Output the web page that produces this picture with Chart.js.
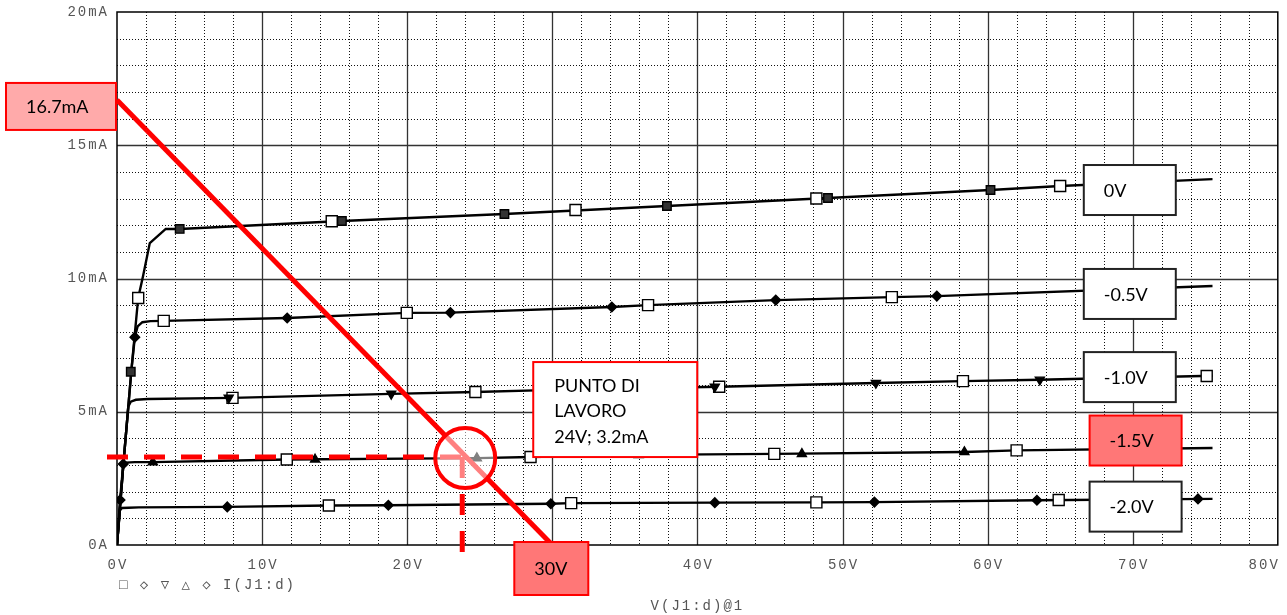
<!DOCTYPE html>
<html>
<head>
<meta charset="utf-8">
<script src="https://cdn.jsdelivr.net/npm/chart.js@4.4.0/dist/chart.umd.min.js"></script>
<style>
  html, body { margin: 0; padding: 0; background: #fff; }
</style>
</head>
<body>
<canvas id="chart" width="1287" height="615"></canvas>
<script>
  // tick labels
  var xTickLabels = ["0V", "10V", "20V", "30V", "40V", "50V", "60V", "70V", "80V"];
  var yTickLabels = ["0A", "5mA", "10mA", "15mA", "20mA"];
  var gateLabels = ["0V", "-0.5V", "-1.0V", "-1.5V", "-2.0V"];

  // drain curves: [V(J1:d) in V, I(J1:d) in mA]
  var curve0 = [[0, 0], [0.45, 3.1], [1.0, 6.6], [1.46, 9.27], [1.8, 10.1], [2.26, 11.33], [3.36, 11.86], [4.32, 11.86], [15.5, 12.16], [26.7, 12.42], [37.9, 12.72], [49.0, 13.02], [60.2, 13.32], [65.0, 13.47], [75.5, 13.73]];
  var curve05 = [[0, 0], [0.45, 3.1], [1.0, 6.6], [1.23, 7.8], [1.42, 8.2], [1.75, 8.36], [2.3, 8.4], [3.22, 8.41], [11.73, 8.52], [19.97, 8.71], [22.98, 8.72], [34.1, 8.93], [36.6, 9.0], [45.4, 9.19], [53.4, 9.3], [56.5, 9.34], [75.5, 9.72]];
  var curve10 = [[0, 0], [0.45, 3.1], [0.78, 5.2], [0.95, 5.38], [1.3, 5.45], [2.13, 5.48], [7.96, 5.52], [18.9, 5.67], [24.7, 5.74], [30.1, 5.82], [41.5, 5.94], [52.3, 6.08], [58.3, 6.15], [63.6, 6.2], [75.5, 6.35]];
  var curve15 = [[0, 0], [0.21, 1.69], [0.43, 3.02], [0.6, 3.09], [1.23, 3.11], [2.47, 3.11], [11.7, 3.21], [24.8, 3.26], [28.5, 3.3], [35.95, 3.38], [45.3, 3.42], [58.4, 3.49], [62.0, 3.55], [75.5, 3.64]];
  var curve20 = [[0, 0], [0.2, 1.3], [0.34, 1.39], [0.8, 1.4], [1.5, 1.41], [7.6, 1.43], [14.6, 1.48], [18.7, 1.49], [29.9, 1.55], [31.3, 1.57], [41.2, 1.59], [48.2, 1.6], [52.2, 1.61], [63.4, 1.68], [75.5, 1.73]];

  // trace markers
  var squares0 = [[0.95, 6.5], [4.32, 11.86], [15.5, 12.16], [26.7, 12.42], [37.9, 12.72], [49.0, 13.02], [60.2, 13.32], [71.4, 13.6]];
  var diamonds05 = [[1.23, 7.8], [11.73, 8.52], [22.98, 8.72], [34.1, 8.93], [45.4, 9.19], [56.5, 9.34], [67.7, 9.57]];
  var downTri10 = [[7.7, 5.52], [18.9, 5.67], [30.1, 5.82], [41.2, 5.94], [52.3, 6.08], [63.6, 6.2]];
  var upTri15 = [[2.47, 3.11], [13.65, 3.21], [24.8, 3.26], [35.95, 3.38], [47.2, 3.42], [58.4, 3.49], [69.5, 3.6]];
  var diamonds20 = [[0.21, 1.69], [0.43, 3.04], [7.6, 1.43], [18.7, 1.49], [29.9, 1.55], [41.2, 1.59], [52.2, 1.61], [63.4, 1.68], [74.5, 1.73]];
  var openSquares = [
    [1.46, 9.27], [14.8, 12.15], [31.6, 12.57], [48.2, 13.0], [65.0, 13.47],
    [3.22, 8.41], [19.97, 8.71], [36.6, 9.0], [53.4, 9.3], [70.1, 9.62],
    [7.96, 5.52], [24.7, 5.74], [41.5, 5.94], [58.3, 6.15], [75.1, 6.34],
    [11.7, 3.21], [28.5, 3.3], [45.3, 3.42], [62.0, 3.55],
    [14.6, 1.48], [31.3, 1.57], [48.2, 1.6], [64.9, 1.69]
  ];

  // load line and working point
  var loadLine = [[0, 16.7], [30, 0]];
  var workPoint = [24, 3.3];
  var workText = ["PUNTO DI", "LAVORO", "24V; 3.2mA"];
  var loadText = ["16.7mA", "30V"];

  var monoFont = "'Liberation Mono', 'DejaVu Sans Mono', monospace";
  var boxFont = "Lato, 'Open Sans', sans-serif";

  function toPoints(pairs) {
    return pairs.map(function (p) {
      return { x: p[0], y: p[1] };
    });
  }

  function curveSet(pairs) {
    return { data: toPoints(pairs), borderColor: "#000", borderWidth: 2.4, pointRadius: 0, tension: 0 };
  }

  function markerSet(pairs, style, radius, fill, rotation) {
    return {
      data: toPoints(pairs),
      showLine: false,
      pointStyle: style,
      pointRadius: radius,
      pointRotation: rotation || 0,
      pointBackgroundColor: fill,
      pointBorderColor: "#000",
      pointBorderWidth: 1.4,
    };
  }

  function drawBox(ctx, left, top, w, h, text, fill, stroke) {
    ctx.fillStyle = fill;
    ctx.fillRect(left, top, w, h);
    ctx.lineWidth = 2;
    ctx.strokeStyle = stroke;
    ctx.strokeRect(left, top, w, h);
    ctx.fillStyle = "#000";
    ctx.font = "18px " + boxFont;
    ctx.textAlign = "left";
    ctx.textBaseline = "middle";
    ctx.fillText(text, left + 20, top + h / 2 + 1);
  }

  var scopePlugin = {
    id: "scope",
    beforeDraw: function (chart) {
      chart.ctx.letterSpacing = "2px";
    },
    beforeDatasetsDraw: function (chart) {
      var ctx = chart.ctx, a = chart.chartArea, xs = chart.scales.x, ys = chart.scales.y;
      var v, px, py;
      ctx.save();
      ctx.letterSpacing = "0px";
      // dotted minor grid
      ctx.lineWidth = 1;
      ctx.strokeStyle = "#111";
      ctx.setLineDash([1, 2]);
      ctx.beginPath();
      for (v = 2; v < 80; v += 2) {
        if (v % 10 === 0) continue;
        px = Math.round(xs.getPixelForValue(v)) + 0.5;
        ctx.moveTo(px, a.top);
        ctx.lineTo(px, a.bottom);
      }
      for (v = 1; v < 20; v++) {
        if (v % 5 === 0) continue;
        py = Math.round(ys.getPixelForValue(v)) + 0.5;
        ctx.moveTo(a.left, py);
        ctx.lineTo(a.right, py);
      }
      ctx.stroke();
      // solid major grid
      ctx.setLineDash([]);
      ctx.strokeStyle = "#333";
      ctx.lineWidth = 1.3;
      ctx.beginPath();
      for (v = 10; v < 80; v += 10) {
        px = Math.round(xs.getPixelForValue(v)) + 0.5;
        ctx.moveTo(px, a.top);
        ctx.lineTo(px, a.bottom);
      }
      for (v = 5; v < 20; v += 5) {
        py = Math.round(ys.getPixelForValue(v)) + 0.5;
        ctx.moveTo(a.left, py);
        ctx.lineTo(a.right, py);
      }
      ctx.stroke();
      ctx.strokeStyle = "#000";
      ctx.lineWidth = 1.5;
      ctx.strokeRect(a.left, a.top, a.right - a.left, a.bottom - a.top);
      ctx.restore();
    },
    afterDraw: function (chart) {
      var ctx = chart.ctx, a = chart.chartArea, xs = chart.scales.x, ys = chart.scales.y;
      ctx.save();

      // x tick labels, legend row, axis title
      ctx.letterSpacing = "2px";
      ctx.font = "14px " + monoFont;
      ctx.fillStyle = "#555";
      ctx.textBaseline = "middle";
      xTickLabels.forEach(function (t, i) {
        var px = xs.getPixelForValue(i * 10);
        var last = i === xTickLabels.length - 1;
        ctx.textAlign = last ? "right" : "center";
        ctx.fillText(t, last ? px + 2 : px + 1, a.bottom + 20);
      });
      ctx.textAlign = "left";
      ctx.fillText("\u25a1 \u25c7 \u25bd \u25b3 \u25c7 I(J1:d)", a.left + 2, a.bottom + 40);
      ctx.textAlign = "center";
      ctx.fillText("V(J1:d)@1", (a.left + a.right) / 2, a.bottom + 61);
      ctx.letterSpacing = "0px";

      var wx = xs.getPixelForValue(workPoint[0]);
      var wy = ys.getPixelForValue(workPoint[1]);

      // dashed guides to the working point
      ctx.strokeStyle = "#ff0000";
      ctx.lineWidth = 5;
      ctx.setLineDash([21, 16]);
      ctx.beginPath();
      ctx.moveTo(a.left - 10, wy);
      ctx.lineTo(wx, wy);
      ctx.moveTo(wx - 3, wy);
      ctx.lineTo(wx - 3, a.bottom + 17);
      ctx.stroke();
      ctx.setLineDash([]);

      // circle round the working point
      ctx.beginPath();
      ctx.arc(wx, wy + 1, 30, 0, Math.PI * 2);
      ctx.fillStyle = "rgba(255,255,255,0.5)";
      ctx.fill();
      ctx.lineWidth = 4;
      ctx.stroke();

      // curve labels (box centres in axis units)
      var spots = [[69.8, 13.32], [69.8, 9.42], [69.8, 6.3], [70.2, 3.92], [70.2, 1.44]];
      gateLabels.forEach(function (t, i) {
        var cx = xs.getPixelForValue(spots[i][0]);
        var cy = ys.getPixelForValue(spots[i][1]);
        var hot = t === "-1.5V";
        drawBox(ctx, cx - 46, cy - 25, 92, 50, t, hot ? "#ff7777" : "#fff", hot ? "#ff0000" : "#222");
      });

      // load line end labels
      var iy = ys.getPixelForValue(loadLine[0][1]);
      drawBox(ctx, a.left - 111, iy - 17, 110, 47, loadText[0], "#ffaaaa", "#ff0000");
      var vx = xs.getPixelForValue(loadLine[1][0]);
      drawBox(ctx, vx - 38, a.bottom - 3, 74, 53, loadText[1], "#ff7777", "#ff0000");

      // working point note
      var bl = wx + 68, bt = wy - 95;
      ctx.fillStyle = "#fff";
      ctx.fillRect(bl, bt, 164, 95);
      ctx.strokeStyle = "#ff0000";
      ctx.lineWidth = 2;
      ctx.strokeRect(bl, bt, 164, 95);
      ctx.fillStyle = "#000";
      ctx.font = "18px " + boxFont;
      ctx.textAlign = "left";
      ctx.textBaseline = "middle";
      workText.forEach(function (t, i) {
        ctx.fillText(t, bl + 21, bt + 24 + i * 25.5);
      });
      ctx.restore();
    },
  };

  var ctx = document.getElementById("chart").getContext("2d");
  new Chart(ctx, {
    type: "line",
    data: {
      datasets: [
        { data: toPoints(loadLine), borderColor: "#ff0000", borderWidth: 5, pointRadius: 0 },
        markerSet(squares0, "rect", 6, "#333"),
        markerSet(diamonds05, "rectRot", 4.8, "#000"),
        markerSet(downTri10, "triangle", 5.2, "#000", 180),
        markerSet(upTri15, "triangle", 5.2, "#000"),
        markerSet(diamonds20, "rectRot", 4.8, "#000"),
        markerSet(openSquares, "rect", 7.8, "#fff"),
        curveSet(curve0),
        curveSet(curve05),
        curveSet(curve10),
        curveSet(curve15),
        curveSet(curve20),
      ],
    },
    options: {
      responsive: false,
      animation: false,
      layout: { padding: { top: 12, right: 5, left: 0, bottom: 0 } },
      plugins: { legend: { display: false }, tooltip: { enabled: false } },
      scales: {
        x: {
          type: "linear",
          min: 0,
          max: 80,
          ticks: { display: false, stepSize: 10 },
          grid: { display: false, drawTicks: false },
          border: { display: false },
          afterFit: function (s) {
            s.height = 70;
            s.paddingLeft = 0;
            s.paddingRight = 0;
          },
        },
        y: {
          type: "linear",
          min: 0,
          max: 20,
          ticks: {
            stepSize: 5,
            padding: 8,
            color: "#555",
            font: { family: monoFont, size: 14 },
            callback: function (v, i) {
              return yTickLabels[i];
            },
          },
          grid: { display: false, drawTicks: false },
          border: { display: false },
          afterFit: function (s) {
            s.width = 117;
            s.paddingTop = 0;
            s.paddingBottom = 0;
          },
        },
      },
    },
    plugins: [scopePlugin],
  });
</script>
</body>
</html>
